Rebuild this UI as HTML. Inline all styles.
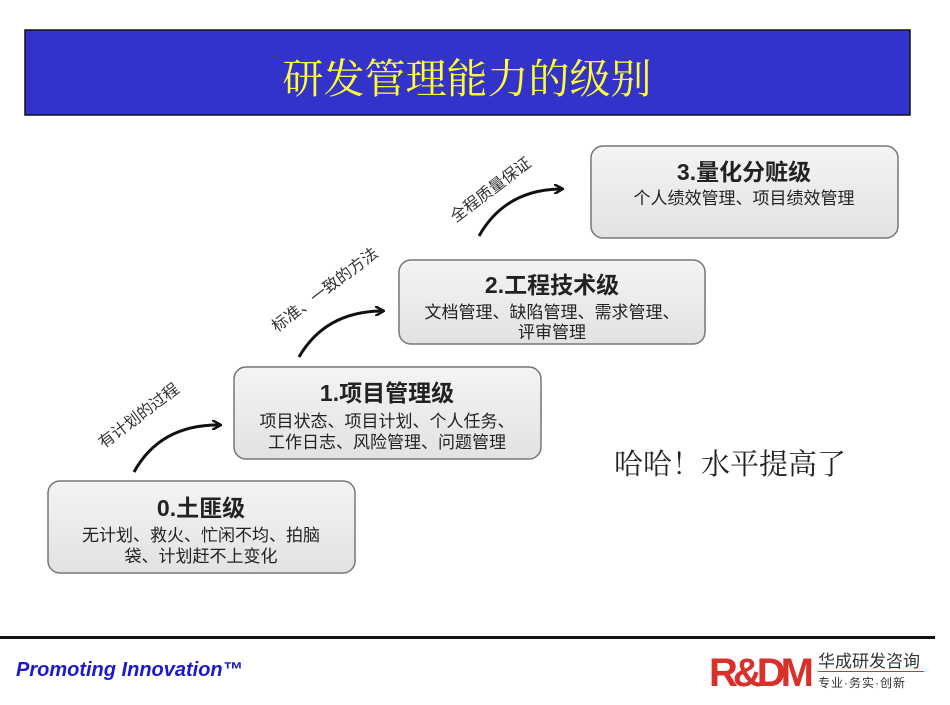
<!DOCTYPE html>
<html><head><meta charset="utf-8"><style>
body{margin:0;background:#fff;width:950px;height:700px;overflow:hidden;font-family:"Liberation Sans","Noto Sans CJK SC",sans-serif;}
</style></head><body>
<svg width="950" height="700" viewBox="0 0 950 700" xmlns="http://www.w3.org/2000/svg" font-family="'Liberation Sans','Noto Sans CJK SC',sans-serif">
<defs>
<linearGradient id="g" x1="0" y1="0" x2="0" y2="1"><stop offset="0" stop-color="#f4f4f4"/><stop offset="1" stop-color="#e2e2e2"/></linearGradient>
<marker id="ah" markerWidth="10" markerHeight="10" refX="6" refY="5" orient="auto" markerUnits="userSpaceOnUse"><path d="M0,0 L9,5 L0,10" fill="none" stroke="#111" stroke-width="2.5"/></marker>
</defs>
<rect x="25" y="30" width="885" height="85" fill="#3333cc" stroke="#111" stroke-width="1.5"/>
<text x="467" y="93" text-anchor="middle" font-size="41" fill="#ffff33" font-family="'Noto Serif CJK SC',serif">研发管理能力的级别</text>

<g stroke="#777" stroke-width="1.5" fill="url(#g)">
<rect x="48" y="481" width="307" height="92" rx="12"/>
<rect x="234" y="367" width="307" height="92" rx="12"/>
<rect x="399" y="260" width="306" height="84" rx="12"/>
<rect x="591" y="146" width="307" height="92" rx="12"/>
</g>
<g fill="#222" text-anchor="middle">
<text x="201" y="516" font-size="23" font-weight="bold">0.土匪级</text>
<text x="201" y="541" font-size="17">无计划、救火、忙闲不均、拍脑</text>
<text x="201" y="562" font-size="17">袋、计划赶不上变化</text>
<text x="387" y="401" font-size="23" font-weight="bold">1.项目管理级</text>
<text x="387" y="427" font-size="17">项目状态、项目计划、个人任务、</text>
<text x="387" y="448" font-size="17">工作日志、风险管理、问题管理</text>
<text x="552" y="293" font-size="23" font-weight="bold">2.工程技术级</text>
<text x="552" y="318" font-size="17">文档管理、缺陷管理、需求管理、</text>
<text x="552" y="338" font-size="17">评审管理</text>
<text x="744" y="180" font-size="23" font-weight="bold">3.量化分赃级</text>
<text x="744" y="204" font-size="17">个人绩效管理、项目绩效管理</text>
</g>
<g fill="none" stroke="#111" stroke-width="3" marker-end="url(#ah)">
<path d="M134,472 Q160,425 218,425"/>
<path d="M299,357 Q325,312 381,311"/>
<path d="M479,236 Q505,190 560,189"/>
</g>
<g fill="#333" font-size="16" text-anchor="middle">
<text transform="translate(142,420) rotate(-37)">有计划的过程</text>
<text transform="translate(328,294) rotate(-37)">标准、一致的方法</text>
<text transform="translate(494,194) rotate(-37)">全程质量保证</text>
</g>
<text x="614" y="474" font-size="29" fill="#222" font-family="'Noto Serif CJK SC',serif">哈哈！水平提高了</text>

<rect x="0" y="636" width="935" height="3" fill="#111"/>
<text x="16" y="676" font-size="20" font-weight="bold" font-style="italic" fill="#1a1acc">Promoting Innovation™</text>
<text x="709" y="686" font-size="40" font-weight="bold" fill="#d8302a" letter-spacing="-5" font-family="'Liberation Sans Narrow','Liberation Sans',sans-serif">R&amp;DM</text>
<text x="818" y="667" font-size="17" fill="#333">华成研发咨询</text>
<rect x="818" y="671" width="106" height="1" fill="#d8302a"/>
<text x="818" y="687" font-size="12" fill="#333" letter-spacing="1">专业·务实·创新</text>
</svg>
</body></html>
